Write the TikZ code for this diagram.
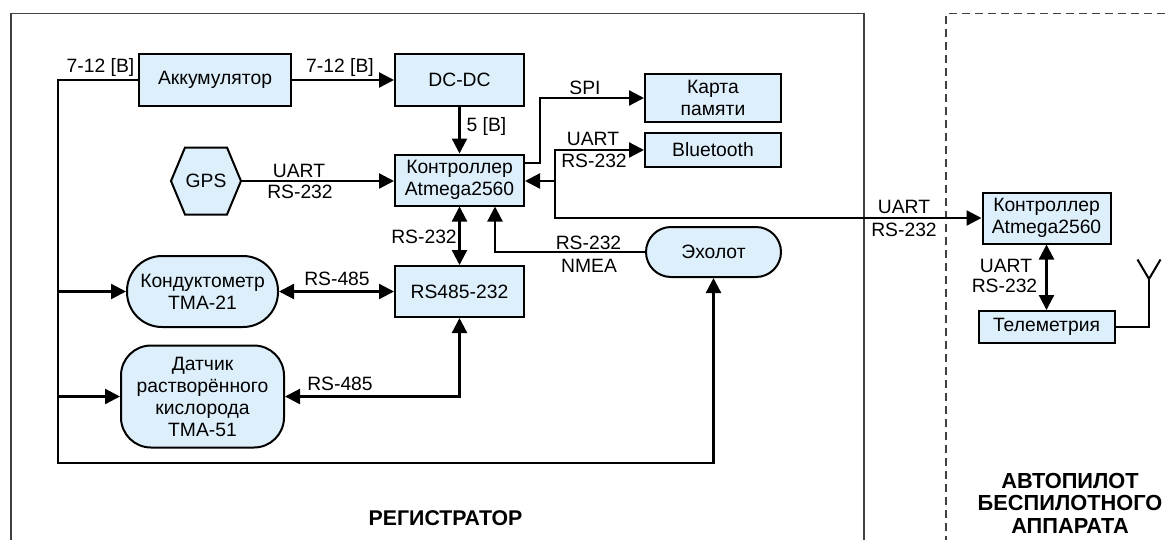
\documentclass[tikz,border=0pt]{standalone}
\usepackage{fontspec}
\setmainfont{Liberation Sans}
\usetikzlibrary{arrows.meta,calc}
\definecolor{boxfill}{HTML}{DEEFFC}
\definecolor{framecol}{HTML}{404040}
\begin{document}
\begin{tikzpicture}[x=1pt,y=-1pt,
  every node/.style={font=\fontsize{19.3}{22}\selectfont},
  blk/.style={draw=black, line width=2pt, fill=boxfill, inner sep=0pt, align=center},
  conn/.style={line width=2.3pt},
  arr/.style={conn, -{Triangle[length=15pt,width=15pt]}},
  darr/.style={conn, {Triangle[length=15pt,width=15pt]}-{Triangle[length=15pt,width=15pt]}},
  lbl/.style={inner sep=0pt, anchor=base},
  titletext/.style={font=\fontsize{21.8}{22.5}\selectfont\bfseries, align=center, inner sep=0pt},
  frame/.style={line width=1.3pt, draw=framecol}]
\useasboundingbox (0,0) rectangle (1165,539);
\clip (0,0) rectangle (1165,539);

% frames
\draw[frame] (11,570) -- (11,13.5) -- (864,13.5) -- (864,570);
\draw[frame, dash pattern=on 8pt off 5pt] (946,570) -- (946,13.5) -- (1180,13.5);

% blocks
\node[blk, minimum width=152pt, minimum height=52pt] (akk) at (215,80) {Аккумулятор};
\node[blk, minimum width=129pt, minimum height=52pt] (dc) at (459.5,80) {DC-DC};
\node[blk, minimum width=129pt, minimum height=51pt] (ctrl) at (459.5,180) {Контроллер\\Atmega2560};
\node[blk, minimum width=136pt, minimum height=48pt] (card) at (713,98) {Карта\\памяти};
\node[blk, minimum width=136pt, minimum height=34pt] (bt) at (713,150) {Bluetooth};
\node[blk, minimum width=129pt, minimum height=51pt] (rs) at (459.5,291.5) {RS485-232};
\node[blk, rounded corners=25pt, minimum width=135pt, minimum height=50pt] (echo) at (713.5,252) {Эхолот};
\node[blk, rounded corners=35pt, minimum width=151pt, minimum height=71pt] (cond) at (202.5,291.5) {Кондуктометр\\ТМА-21};
\node[blk, rounded corners=30pt, minimum width=163pt, minimum height=102pt] (dat) at (202.5,396.5) {Датчик\\растворённого\\кислорода\\ТМА-51};
\node[blk, minimum width=128pt, minimum height=51pt] (ext) at (1046.5,218) {Контроллер\\Atmega2560};
\node[blk, minimum width=136pt, minimum height=32pt] (tel) at (1046.5,327) {Телеметрия};

% GPS hexagon
\filldraw[draw=black, line width=2pt, fill=boxfill, line join=miter]
  (171,181) -- (185,147.5) -- (227,147.5) -- (241,181) -- (227,214.5) -- (185,214.5) -- cycle;
\node[minimum width=70pt, minimum height=67pt, inner sep=0pt] (gps) at (206,181) {GPS};

% power bus
\coordinate (bb) at (58,463);
\draw[arr] (akk.west) -| (bb) -| (echo.south);
\draw[arr] (bb |- cond.west) -- (cond.west);
\draw[arr] (bb |- dat.west) -- (dat.west);
\node[lbl] at (100.5,72) {7-12 [В]};

\draw[arr] (akk) -- (dc);
\node[lbl] at (340,72) {7-12 [В]};

\draw[arr] (dc) -- (ctrl);
\node[lbl] at (486.5,131) {5 [В]};

\draw[arr] (gps.east) -- (ctrl.west |- gps.east);
\node[lbl] at (299,177) {UART};
\node[lbl] at (300,198) {RS-232};

% SPI
\draw[arr] ([yshift=17pt]ctrl.east) -- ++(15,0) |- (card.west);
\node[lbl] at (585,94) {SPI};

% UART bus
\coordinate (J) at (555,181);
\draw[arr] (J) -- (ctrl.east |- J);
\draw[arr] (J) |- (bt.west);
\draw[arr] (J) |- (ext.west);
\node[lbl] at (593,145) {UART};
\node[lbl] at (594,167) {RS-232};
\node[lbl] at (904,213) {UART};
\node[lbl] at (904,236) {RS-232};

% controller <-> RS485-232
\draw[darr] (ctrl.south) -- (rs.north);
\node[lbl] at (424,243) {RS-232};

% echosounder
\draw[arr] (echo.west) -| ([xshift=35.5pt]ctrl.south);
\node[lbl] at (588.5,249) {RS-232};
\node[lbl] at (589,272) {NMEA};

% RS-485
\draw[darr] (cond.east) -- (rs.west);
\node[lbl] at (337,285) {RS-485};
\draw[darr] (rs.south) |- (dat.east);
\node[lbl] at (340,390) {RS-485};

% autopilot
\draw[darr] (ext.south) -- (tel.north);
\node[lbl] at (1006,272) {UART};
\node[lbl] at (1004.5,292) {RS-232};
\coordinate (ant) at (1149,279);
\draw[conn] (tel.east) -| (ant);
\draw[line width=2pt] (1137.5,259.5) -- (ant) -- (1160.5,259.5);

% titles
\node[lbl, font=\fontsize{21.3}{22.5}\selectfont\bfseries] (t1) at (445.5,525) {РЕГИСТРАТОР};
\node[titletext] (t2) at (1070,503) {АВТОПИЛОТ\\БЕСПИЛОТНОГО\\АППАРАТА};
\end{tikzpicture}
\end{document}
